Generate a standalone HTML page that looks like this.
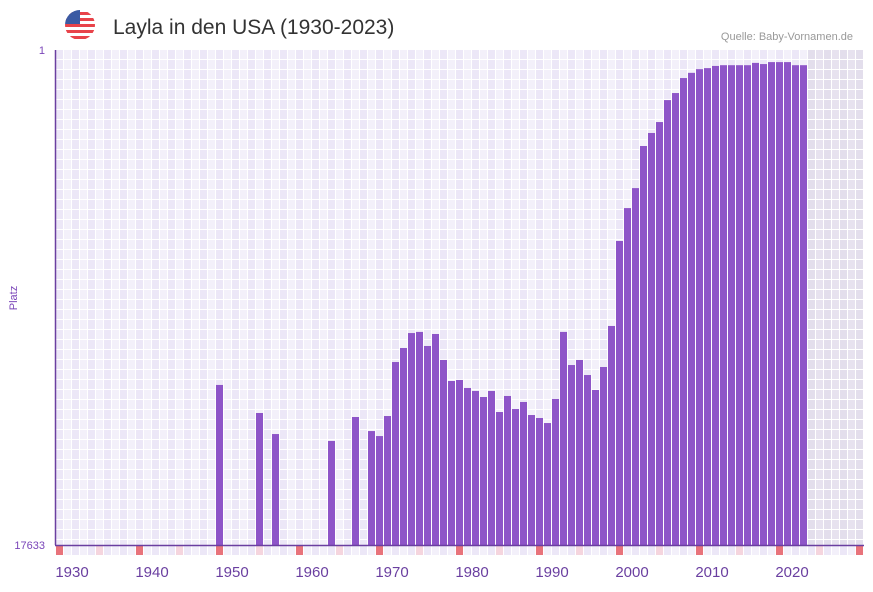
<!DOCTYPE html>
<html><head><meta charset="utf-8"><style>
body{margin:0;background:#fff;font-family:"Liberation Sans",sans-serif;}
</style></head><body>
<svg id="chart" width="873" height="587" xmlns="http://www.w3.org/2000/svg">
<g>
<clipPath id="fc"><circle cx="80" cy="25" r="15"/></clipPath>
<g clip-path="url(#fc)">
<rect x="65" y="10" width="30" height="30" fill="#fff"/>
<rect x="65" y="12" width="30" height="3" fill="#e8434a"/>
<rect x="65" y="18" width="30" height="3" fill="#e8434a"/>
<rect x="65" y="24" width="30" height="3" fill="#e8434a"/>
<rect x="65" y="30" width="30" height="3" fill="#e8434a"/>
<rect x="65" y="36" width="30" height="3" fill="#e8434a"/>
<rect x="65" y="10" width="15" height="14" fill="#3b5aa3"/>
</g></g>
<text x="113" y="34" font-size="21" fill="#333">Layla in den USA (1930-2023)</text>
<text x="853" y="40" font-size="11" fill="#999" text-anchor="end">Quelle: Baby-Vornamen.de</text>
<text x="17" y="298" font-size="11" fill="#7a45b8" text-anchor="middle" transform="rotate(-90 17 298)">Platz</text>
<text x="45" y="54" font-size="11" fill="#7a45b8" text-anchor="end">1</text>
<text x="45" y="549" font-size="11" fill="#7a45b8" text-anchor="end">17633</text>
<g id="grid"></g><g id="bars"></g><g id="marks"></g><g id="xlabels"></g>
<line x1="55.5" y1="50" x2="55.5" y2="545" stroke="#6a3fa0" stroke-width="1.5"/>
<line x1="55" y1="545.5" x2="864" y2="545.5" stroke="#6a3fa0" stroke-width="1.5"/>
</svg>
<script>
const years=[1949,1954,1956,1963,1966,1968,1969,1970,1971,1972,1973,1974,1975,1976,1977,1978,1979,1980,1981,1982,1983,1984,1985,1986,1987,1988,1989,1990,1991,1992,1993,1994,1995,1996,1997,1998,1999,2000,2001,2002,2003,2004,2005,2006,2007,2008,2009,2010,2011,2012,2013,2014,2015,2016,2017,2018,2019,2020,2021,2022];
const ranks=[747,1300,1970,2260,1407,1857,2050,1380,475,360,268,262,346,273,456,691,677,793,842,948,842,1275,929,1202,1046,1353,1435,1585,986,262,504,456,614,825,524,233,43.5,22.7,15.3,6.66,5.15,4.15,2.69,2.34,1.74,1.57,1.46,1.43,1.37,1.35,1.35,1.35,1.35,1.29,1.32,1.27,1.27,1.27,1.35,1.35];
const xTicks=[1930,1940,1950,1960,1970,1980,1990,2000,2010,2020];
const NS="http://www.w3.org/2000/svg";
const firstYear=1929,lastYear=2029,maxRank=17633,plotTop=50,plotBottom=545;
function xOf(y){return 56+(y-firstYear)*8;}
function yOf(r){return plotTop+(plotBottom-plotTop)*Math.log(r)/Math.log(maxRank);}
function mk(t,a,p){const e=document.createElementNS(NS,t);for(const k in a)e.setAttribute(k,a[k]);p.appendChild(e);return e;}
const grid=document.getElementById('grid');
const marks=document.getElementById('marks');
for(let y=firstYear;y<=lastYear;y++){
 const shaded=y>=2023;
 for(let r=0;r<50;r++){
  const yy=plotTop+r*10;
  const c=mk('rect',{x:xOf(y),y:yy,width:7,height:Math.min(9,plotBottom-yy),fill:shaded?((y%2)?'#e3deec':'#e7e2ef'):((y%2)?'#ece7f7':'#f3f0fa')},grid);
  
  
 }
 const m=(y-firstYear)%10;
 const mc=m===0?'#e8737b':(m===5?'#f5d5de':((y%2)?'#ece7f7':'#f3f0fa'));
 const mr=mk('rect',{x:xOf(y),y:546,width:7,height:9,fill:mc},marks);
 
 
}
const bars=document.getElementById('bars');
years.forEach((y,i)=>{
 const t=yOf(ranks[i]);
 const b=mk('rect',{x:xOf(y),y:t,width:7,height:plotBottom-t,fill:'#8e55c8'},bars);
 
 
});
const xl=document.getElementById('xlabels');
xTicks.forEach(y=>{
 const t=mk('text',{x:xOf(y)+8,y:577,'font-size':15,fill:'#6a3fa0','text-anchor':'middle'},xl);
 t.textContent=y;
 
 
});
</script>
</body></html>
